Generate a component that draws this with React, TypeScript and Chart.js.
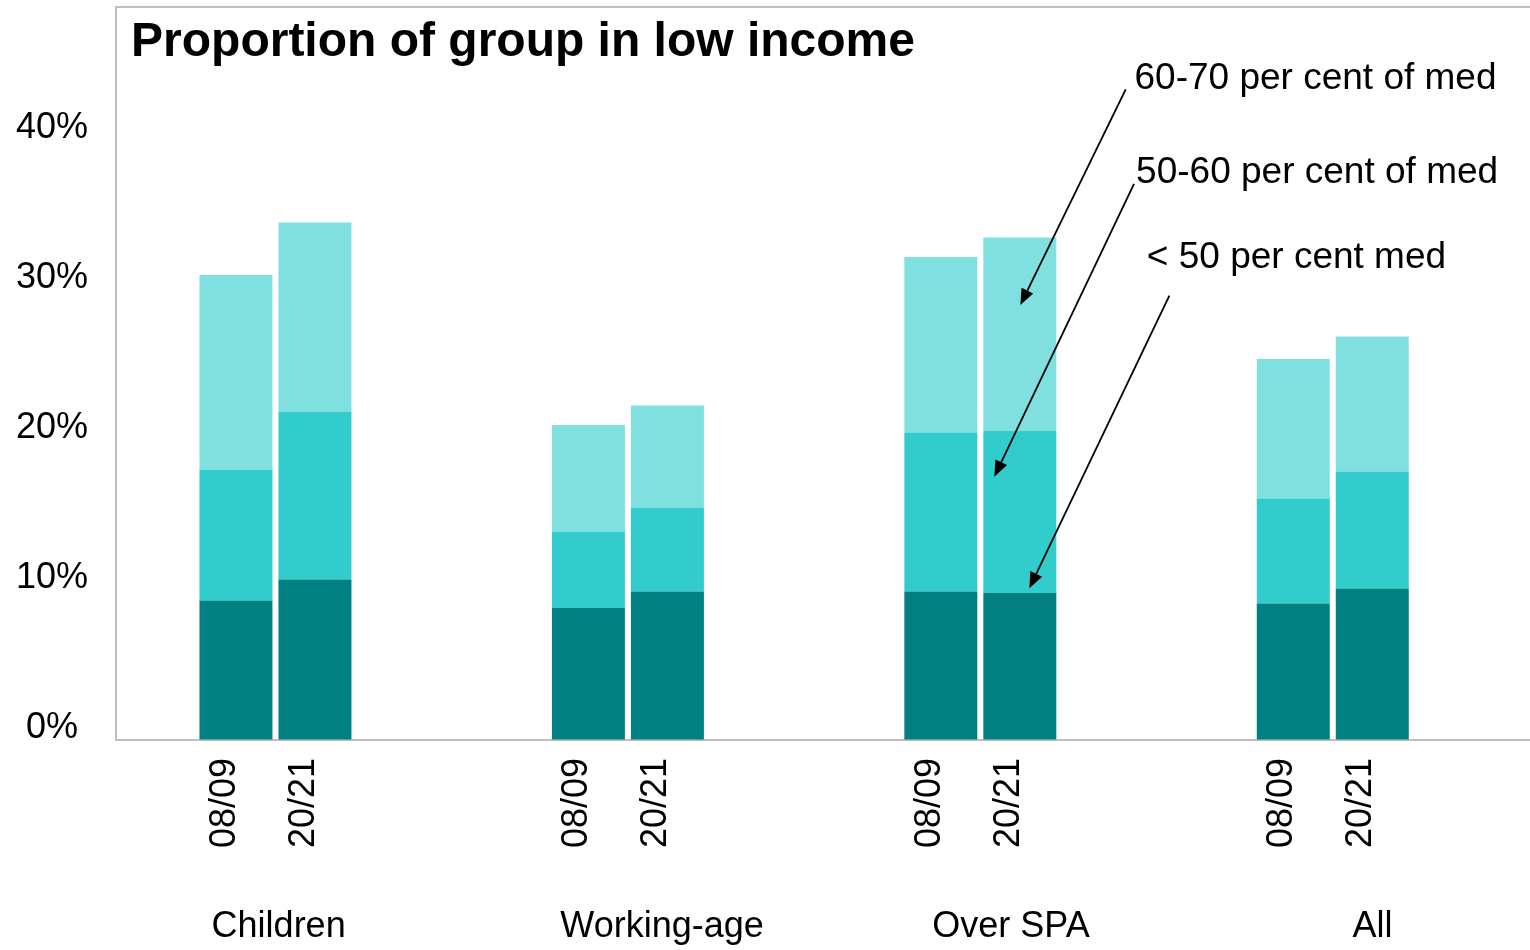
import React, { useEffect, useRef } from 'react';
import { Chart, registerables } from 'chart.js';

Chart.register(...registerables);

// ---------- data ----------
const TITLE = 'Proportion of group in low income';
const GROUPS = ['Children', 'Working-age', 'Over SPA', 'All'];
const PERIODS = ['08/09', '20/21'];
const BANDS = ['< 50 per cent med', '50-60 per cent of med', '60-70 per cent of med'];

// per cent of group, per band (stacked bottom to top)
const BELOW_50_0809 = [9.3, 8.8, 9.9, 9.1];
const BAND_50_60_0809 = [8.7, 5.1, 10.6, 7.0];
const BAND_60_70_0809 = [13.0, 7.1, 11.7, 9.3];
const BELOW_50_2021 = [10.7, 9.9, 9.8, 10.1];
const BAND_50_60_2021 = [11.2, 5.6, 10.8, 7.8];
const BAND_60_70_2021 = [12.6, 6.8, 12.9, 9.0];

const Y_TICKS = [0, 10, 20, 30, 40];

// ---------- layout / style ----------
const FONT = '"Liberation Sans", Arial, Helvetica, sans-serif';
const BAND_COLORS = ['#008080', '#33CCCC', '#80E0E0'];
const BORDER = '#BFBFBF';
const X_MIN = -0.4523;
const X_MAX = 3.5596;
const Y_MAX = 48.87;
const CAT_PCT = 0.4483;
const BAR_PCT = 0.924;
const GROUP_LABEL_NUDGE = [0.009, 0.097, 0.087, 0.113];

const CALLOUTS = [
  { text: BANDS[2], textX: 2.4375, textY: 43.38, fromX: 2.4125, fromY: 43.38, toX: 2.1135, toY: 29.0 },
  { text: BANDS[1], textX: 2.442, textY: 37.15, fromX: 2.436, fromY: 37.07, toX: 2.0397, toY: 17.55 },
  { text: BANDS[0], textX: 2.4724, textY: 31.49, fromX: 2.5363, fromY: 29.62, toX: 2.139, toY: 10.11 },
];

const SERIES = [
  { period: 0, band: 0, values: BELOW_50_0809 },
  { period: 0, band: 1, values: BAND_50_60_0809 },
  { period: 0, band: 2, values: BAND_60_70_0809 },
  { period: 1, band: 0, values: BELOW_50_2021 },
  { period: 1, band: 1, values: BAND_50_60_2021 },
  { period: 1, band: 2, values: BAND_60_70_2021 },
];

const annotationPlugin = {
  id: 'annotations',
  afterDatasetsDraw(chart: any) {
    const { ctx, chartArea, scales } = chart;
    const xs = scales.x;
    const ys = scales.y;
    ctx.save();
    ctx.fillStyle = '#000';
    ctx.textAlign = 'left';
    ctx.textBaseline = 'alphabetic';
    ctx.font = `bold 48px ${FONT}`;
    ctx.fillText(TITLE, chartArea.left + 15, chartArea.top + 49);

    ctx.font = `37px ${FONT}`;
    for (const c of CALLOUTS) {
      ctx.fillText(c.text, xs.getPixelForValue(c.textX), ys.getPixelForValue(c.textY));
      const x0 = xs.getPixelForValue(c.fromX);
      const y0 = ys.getPixelForValue(c.fromY);
      const x1 = xs.getPixelForValue(c.toX);
      const y1 = ys.getPixelForValue(c.toY);
      const a = Math.atan2(y1 - y0, x1 - x0);
      const cos = Math.cos(a);
      const sin = Math.sin(a);
      const headLen = 16;
      const headHalf = 6.5;
      const bx = x1 - headLen * cos;
      const by = y1 - headLen * sin;
      ctx.strokeStyle = '#000';
      ctx.lineWidth = 1.8;
      ctx.beginPath();
      ctx.moveTo(x0, y0);
      ctx.lineTo(bx, by);
      ctx.stroke();
      ctx.beginPath();
      ctx.moveTo(x1, y1);
      ctx.lineTo(bx - headHalf * sin, by + headHalf * cos);
      ctx.lineTo(bx + headHalf * sin, by - headHalf * cos);
      ctx.closePath();
      ctx.fill();
    }
    ctx.restore();
  },
};

export default function App() {
  const canvasRef = useRef<HTMLCanvasElement | null>(null);

  useEffect(() => {
    const canvas = canvasRef.current;
    if (!canvas) return;
    Chart.defaults.font.family = FONT;
    Chart.defaults.color = '#000';

    const datasets = SERIES.map((s) => ({
      label: BANDS[s.band],
      stack: PERIODS[s.period],
      xAxisID: 'x',
      yAxisID: 'y',
      data: s.values.map((v, i) => ({ x: i, y: v })),
      backgroundColor: BAND_COLORS[s.band],
      borderWidth: 0,
      categoryPercentage: CAT_PCT,
      barPercentage: BAR_PCT,
    }));

    const hiddenTickGrid = (len: number) => ({
      display: true,
      drawOnChartArea: false,
      drawTicks: true,
      tickLength: len,
      tickColor: 'rgba(0,0,0,0)',
      color: 'rgba(0,0,0,0)',
    });

    const noEdgePadding = (scale: any) => {
      scale.paddingTop = 0;
      scale.paddingBottom = 0;
      scale.paddingLeft = 0;
      scale.paddingRight = 0;
    };

    const chart = new Chart(canvas, {
      type: 'bar',
      data: { datasets },
      plugins: [annotationPlugin],
      options: {
        responsive: false,
        animation: false,
        layout: { padding: { left: 16, top: 7, right: 0, bottom: 1 } },
        plugins: {
          legend: { display: false },
          tooltip: { enabled: false },
          title: { display: false },
        },
        scales: {
          x: {
            type: 'linear',
            axis: 'x',
            position: 'bottom',
            weight: 0,
            min: X_MIN,
            max: X_MAX,
            offset: false,
            stacked: true,
            afterBuildTicks: (scale: any) => {
              scale.ticks = GROUPS.map((_, i) => ({ value: i }));
            },
            afterFit: noEdgePadding,
            grid: { display: false, drawTicks: false },
            ticks: { display: false },
            border: { display: true, color: BORDER, width: 2 },
          },
          xYear: {
            type: 'linear',
            axis: 'x',
            position: 'bottom',
            weight: 1,
            min: X_MIN,
            max: X_MAX,
            offset: false,
            afterBuildTicks: (scale: any) => {
              const ticks: any[] = [];
              GROUPS.forEach((_, i) => {
                PERIODS.forEach((__, j) => {
                  ticks.push({ value: i + (j - (PERIODS.length - 1) / 2) * (CAT_PCT / PERIODS.length) });
                });
              });
              scale.ticks = ticks;
            },
            afterFit: noEdgePadding,
            grid: hiddenTickGrid(18),
            border: { display: false },
            ticks: {
              autoSkip: false,
              minRotation: 90,
              maxRotation: 90,
              padding: 0,
              labelOffset: -11,
              color: '#000',
              font: { size: 36, family: FONT, lineHeight: 1.2 },
              callback: (_v: any, index: number) => PERIODS[index % PERIODS.length],
            },
          },
          xGroup: {
            type: 'linear',
            axis: 'x',
            position: 'bottom',
            weight: 2,
            min: X_MIN,
            max: X_MAX,
            offset: false,
            afterBuildTicks: (scale: any) => {
              scale.ticks = GROUPS.map((_, i) => ({ value: i + GROUP_LABEL_NUDGE[i] }));
            },
            afterFit: noEdgePadding,
            grid: hiddenTickGrid(57.8),
            border: { display: false },
            ticks: {
              autoSkip: false,
              minRotation: 0,
              maxRotation: 0,
              padding: 0,
              color: '#000',
              font: { size: 36, family: FONT, lineHeight: 1.2 },
              callback: (_v: any, index: number) => GROUPS[index],
            },
          },
          xTop: {
            type: 'linear',
            axis: 'x',
            position: 'top',
            min: X_MIN,
            max: X_MAX,
            offset: false,
            afterFit: noEdgePadding,
            grid: { display: false, drawTicks: false },
            ticks: { display: false },
            border: { display: true, color: BORDER, width: 2 },
          },
          y: {
            type: 'linear',
            position: 'left',
            stacked: true,
            min: 0,
            max: Y_MAX,
            afterBuildTicks: (scale: any) => {
              scale.ticks = Y_TICKS.map((v) => ({ value: v }));
            },
            afterFit: noEdgePadding,
            grid: hiddenTickGrid(28),
            border: { display: true, color: BORDER, width: 2 },
            ticks: {
              padding: 0,
              crossAlign: 'center',
              labelOffset: -12,
              color: '#000',
              font: { size: 36, family: FONT, lineHeight: 1.2 },
              callback: (v: any) => `${v}%`,
            },
          },
        },
      } as any,
    });

    return () => {
      chart.destroy();
    };
  }, []);

  return (
    <div style={{ position: 'absolute', left: 0, top: 0, width: 1530, height: 950, background: '#fff' }}>
      <canvas ref={canvasRef} width={1530} height={950} style={{ display: 'block' }} />
    </div>
  );
}
